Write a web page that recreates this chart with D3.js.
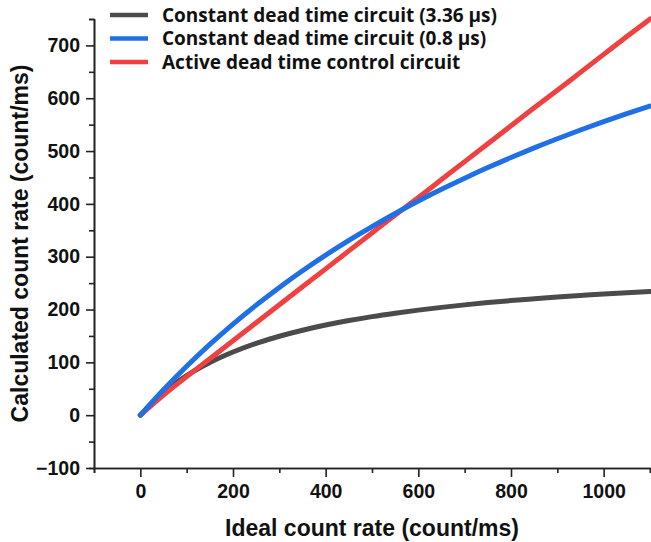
<!DOCTYPE html>
<html>
<head>
<meta charset="utf-8">
<script src="https://cdn.jsdelivr.net/npm/d3@7"></script>
<style>
  body { margin: 0; background: #fff; }
  text { font-family: "Liberation Sans", Arial, sans-serif; font-weight: bold; fill: #111; }
</style>
</head>
<body>
<div id="chart"></div>
<script>
// values
const idealRate = [0, 50, 100, 150, 200, 250, 300, 350, 400, 450, 500, 550,
                   600, 650, 700, 750, 800, 850, 900, 950, 1000, 1050, 1100];
const constSlow = [0, 42.8, 74.9, 99.7, 119.6, 135.9, 149.4, 160.8, 170.6, 179.1, 186.6, 193.1,
                   198.9, 204.1, 208.8, 213.1, 216.9, 220.4, 223.7, 226.6, 229.4, 231.9, 234.2];
const constFast = [0, 48.1, 92.6, 133.9, 172.4, 208.3, 241.9, 273.4, 303.0, 330.9, 357.1, 381.9,
                   405.4, 427.6, 448.7, 468.8, 487.8, 506.0, 523.3, 539.8, 555.6, 570.7, 585.1];
const activeCtl = [0, 38, 73, 107, 141, 175, 209, 243, 277, 311, 345, 379,
                   412, 446, 480, 514, 548, 582, 615, 649, 683, 717, 750];

const seriesNames = ['Constant dead time circuit (3.36 \u03bcs)',
                     'Constant dead time circuit (0.8 \u03bcs)',
                     'Active dead time control circuit'];
const seriesColors = ['#4b4b4b', '#1f6fe6', '#f04040'];
const seriesValues = [constSlow, constFast, activeCtl];

const xTicks = [0, 200, 400, 600, 800, 1000];
const xMinorTicks = [-100, 100, 300, 500, 700, 900, 1100];
const yTicks = [-100, 0, 100, 200, 300, 400, 500, 600, 700];
const yMinorTicks = [-50, 50, 150, 250, 350, 450, 550, 650, 750];

// dimensions
const width = 651, height = 542;
const margin = {top: 19, right: 1, bottom: 74, left: 94};
const plotWidth = width - margin.left - margin.right;
const plotHeight = height - margin.top - margin.bottom;

const svg = d3.select('#chart').append('svg')
    .attr('width', width)
    .attr('height', height);

const g = svg.append('g')
    .attr('transform', 'translate(' + margin.left + ',' + margin.top + ')');

const x = d3.scaleLinear().domain([-100, 1100]).range([0, plotWidth]);
const y = d3.scaleLinear().domain([-100, 750]).range([plotHeight, 0]);

// minor ticks first, then the major axis on top
g.append('g')
    .attr('transform', 'translate(0,' + plotHeight + ')')
    .call(d3.axisBottom(x).tickValues(xMinorTicks).tickSize(5).tickFormat(''));
g.append('g')
    .call(d3.axisLeft(y).tickValues(yMinorTicks).tickSize(5).tickFormat(''));

g.append('g')
    .attr('transform', 'translate(0,' + plotHeight + ')')
    .call(d3.axisBottom(x).tickValues(xTicks).tickFormat(d3.format('d'))
        .tickSize(9).tickPadding(7).tickSizeOuter(0));
g.append('g')
    .call(d3.axisLeft(y).tickValues(yTicks).tickFormat(d3.format('d'))
        .tickSize(8).tickPadding(6).tickSizeOuter(0));

g.selectAll('.domain, .tick line')
    .attr('stroke', '#222')
    .attr('stroke-width', 1.6);
g.selectAll('.tick text')
    .style('font-size', '19.5px')
    .style('font-family', '"Liberation Sans", Arial, sans-serif')
    .style('font-weight', 'bold')
    .attr('fill', '#111');

// axis titles
svg.append('text')
    .attr('x', margin.left + plotWidth / 2)
    .attr('y', 536)
    .attr('text-anchor', 'middle')
    .style('font-size', '23px')
    .text('Ideal count rate (count/ms)');

svg.append('text')
    .attr('transform', 'translate(28,' + (margin.top + plotHeight / 2) + ') rotate(-90)')
    .attr('text-anchor', 'middle')
    .style('font-size', '23px')
    .text('Calculated count rate (count/ms)');

// curves: gray, then red, then blue on top
const line = d3.line()
    .curve(d3.curveMonotoneX)
    .x(function(d, i) { return x(idealRate[i]); })
    .y(function(d) { return y(d); });

[0, 2, 1].forEach(function(k) {
    g.append('path')
        .datum(seriesValues[k])
        .attr('fill', 'none')
        .attr('stroke', seriesColors[k])
        .attr('stroke-width', 5)
        .attr('stroke-linecap', 'round')
        .attr('d', line);
});

// legend
const legend = svg.append('g').attr('transform', 'translate(110,15)');
seriesNames.forEach(function(name, i) {
    legend.append('line')
        .attr('x1', 0).attr('x2', 38)
        .attr('y1', i * 23.5).attr('y2', i * 23.5)
        .attr('stroke', seriesColors[i])
        .attr('stroke-width', 4.5);
    legend.append('text')
        .attr('x', 52)
        .attr('y', i * 23.5)
        .attr('dy', '0.36em')
        .style('font-family', '"Open Sans", sans-serif')
        .style('font-size', '19px')
        .text(name);
});
</script>
</body>
</html>
